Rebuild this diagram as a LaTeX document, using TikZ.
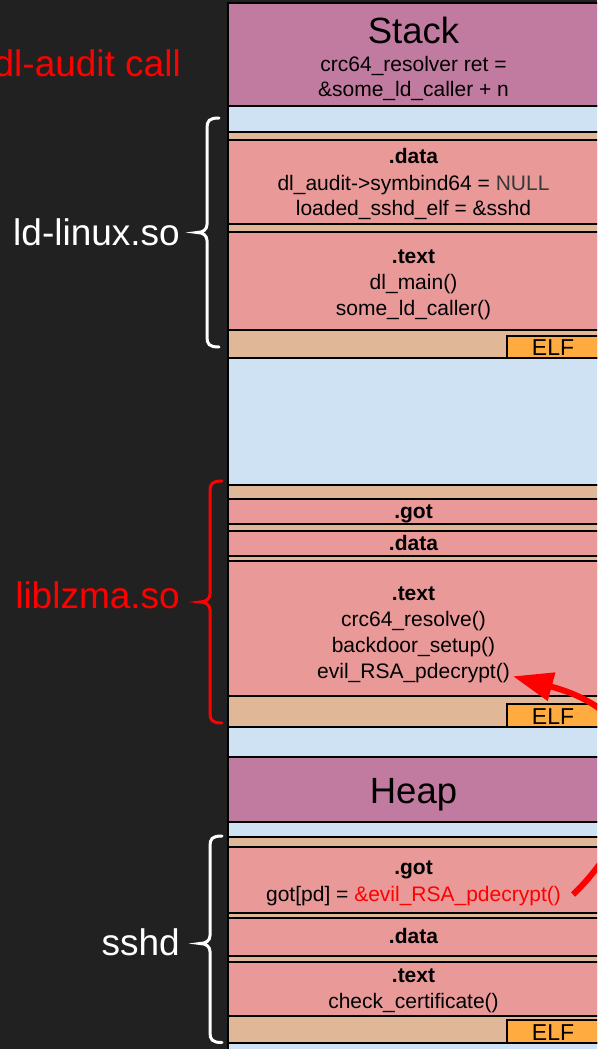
\documentclass[tikz,border=0pt]{standalone}
\usepackage{fontspec}
\setmainfont{Liberation Sans}
\usetikzlibrary{arrows.meta}

\definecolor{bg}{HTML}{212121}
\definecolor{segpurple}{HTML}{C27BA0}
\definecolor{gapblue}{HTML}{CFE2F3}
\definecolor{modtan}{HTML}{E0B898}
\definecolor{secpink}{HTML}{EA9999}
\definecolor{elforange}{HTML}{FFAB40}
\definecolor{hotred}{HTML}{FF0000}
\definecolor{nullgray}{HTML}{383838}

% curly brace on the left of a module: colour, x of the ends, top, middle, bottom
\newcommand\sidebrace[5]{%
  \draw[bracestyle,#1] (#2,#3)
    .. controls ({#2-10},#3) and ({#2-12},{#3+3}) .. ({#2-12},{#3+10})
    -- ({#2-12},{#4-8})
    .. controls ({#2-12},{#4-3}) and ({#2-16},#4) .. ({#2-22},#4)
    .. controls ({#2-16},#4) and ({#2-12},{#4+3}) .. ({#2-12},{#4+8})
    -- ({#2-12},{#5-10})
    .. controls ({#2-12},{#5-3}) and ({#2-10},#5) .. (#2,#5);}

\begin{document}
\begin{tikzpicture}[x=1pt,y=-1pt,
  seg/.style={draw=black, line width=1.5pt},
  txt/.style={anchor=base, inner sep=0pt, text=black, font=\fontsize{21}{25}\selectfont},
  head/.style={txt, font=\fontsize{21}{25}\selectfont\bfseries},
  title/.style={anchor=base, inner sep=0pt, text=black, font=\fontsize{36.5}{40}\selectfont},
  elftxt/.style={anchor=base, inner sep=0pt, text=black, font=\fontsize{23}{26}\selectfont},
  side/.style={anchor=base east, inner sep=0pt, font=\fontsize{37}{40}\selectfont},
  bracestyle/.style={line width=3pt, line cap=round},
  ptr/.style={draw=hotred, line width=6pt, -{Triangle[length=40pt,width=28pt]}}
]
\useasboundingbox (0,0) rectangle (597,1049);
\fill[bg] (0,0) rectangle (597,1049);
\clip (0,0) rectangle (597,1049);

% ---- memory column ----
\path[seg, fill=segpurple] (228,3) rectangle (610,106);
\path[seg, fill=gapblue]   (228,106) rectangle (610,132);
% ld-linux.so image
\path[seg, fill=modtan]    (228,132) rectangle (610,358);
\path[seg, fill=secpink]   (228,140) rectangle (610,224);
\path[seg, fill=secpink]   (228,232) rectangle (610,330);
\path[seg, fill=elforange] (507,336) rectangle (610,358);
\path[seg, fill=gapblue]   (228,358) rectangle (610,485);
% liblzma.so image
\path[seg, fill=modtan]    (228,485) rectangle (610,727);
\path[seg, fill=secpink]   (228,499) rectangle (610,524);
\path[seg, fill=secpink]   (228,531) rectangle (610,556);
\path[seg, fill=secpink]   (228,561) rectangle (610,696);
\path[seg, fill=elforange] (507,704) rectangle (610,727);
\path[seg, fill=gapblue]   (228,727) rectangle (610,757);
% heap
\path[seg, fill=segpurple] (228,757) rectangle (610,822);
\path[seg, fill=gapblue]   (228,822) rectangle (610,837);
% sshd image
\path[seg, fill=modtan]    (228,837) rectangle (610,1043);
\path[seg, fill=secpink]   (228,847) rectangle (610,913);
\path[seg, fill=secpink]   (228,918) rectangle (610,956);
\path[seg, fill=secpink]   (228,962) rectangle (610,1016);
\path[seg, fill=elforange] (507,1020) rectangle (610,1043);
\path[seg, fill=gapblue]   (228,1043) rectangle (610,1060);

% ---- stack ----
\node[title] (stack) at (413.5,43.3) {Stack};
\node[txt] (ret1) at (413.5,71.7) {crc64\_resolver ret =};
\node[txt] (ret2) at (413.5,96.7) {\&some\_ld\_caller + n};

% ---- ld-linux.so ----
\node[head] (lddata) at (413.5,163.3) {.data};
\node[txt] (audit) at (413.5,190) {dl\_audit->symbind64 = \textcolor{nullgray}{NULL}};
\node[txt] (loaded) at (413.5,215) {loaded\_sshd\_elf = \&sshd};
\node[head] (ldtext) at (413.5,263.3) {.text};
\node[txt] (dlmain) at (413.5,289.5) {dl\_main()};
\node[txt] (ldcaller) at (413.5,315) {some\_ld\_caller()};
\node[elftxt] (ldelf) at (553,355.5) {ELF};

% ---- liblzma.so ----
\node[head] (lzgot) at (413.5,518) {.got};
\node[head] (lzdata) at (413.5,550) {.data};
\node[head] (lztext) at (413.5,600) {.text};
\node[txt] (resolve) at (413.5,626.5) {crc64\_resolve()};
\node[txt] (setup) at (413.5,652.5) {backdoor\_setup()};
\node[txt] (evil) at (413.5,678.3) {evil\_RSA\_pdecrypt()};
\node[elftxt] (lzelf) at (553,724.3) {ELF};

% ---- heap ----
\node[title] (heap) at (413.5,803) {Heap};

% ---- sshd ----
\node[head] (sgot) at (413.5,874) {.got};
\node[txt] (gotpd) at (413.5,901) {got[pd] = \textcolor{hotred}{\&evil\_RSA\_pdecrypt()}};
\node[head] (sdata) at (413.5,943.3) {.data};
\node[head] (stext) at (413.5,982.7) {.text};
\node[txt] (cert) at (413.5,1008.3) {check\_certificate()};
\node[elftxt] (selfelf) at (553,1040) {ELF};

% ---- side labels and braces ----
\node[side, text=hotred] (auditcall) at (181,76) {dl-audit call};
\node[side, text=white] (ldname) at (180,245) {ld-linux.so};
\node[side, text=hotred] (lzname) at (180,608) {liblzma.so};
\node[side, text=white] (sshdname) at (180,955) {sshd};
\sidebrace{white}{219}{118}{232.5}{347}
\sidebrace{hotred}{222}{481}{602}{723}
\sidebrace{white}{222}{836}{943.5}{1042.5}

% ---- hijacked GOT entry ----
\draw[ptr] ([xshift=12pt,yshift=1pt]gotpd.east) .. controls (640,830) and (675,720) .. ([xshift=3pt,yshift=2pt]evil.base east);
\end{tikzpicture}
\end{document}
